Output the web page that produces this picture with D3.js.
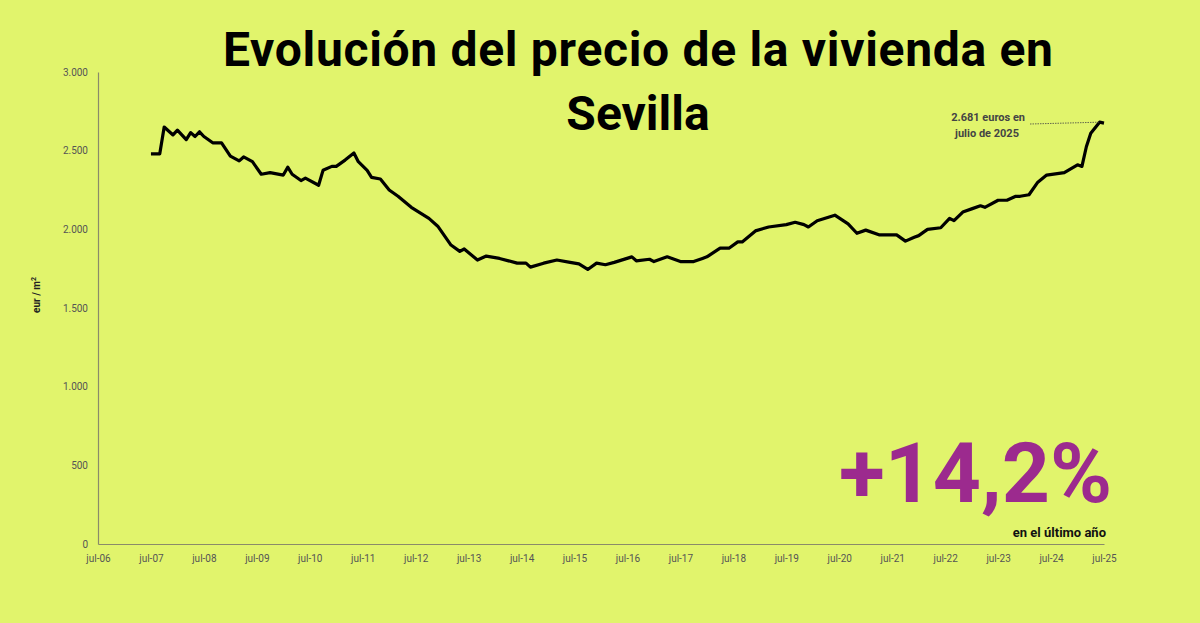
<!DOCTYPE html>
<html>
<head>
<meta charset="utf-8">
<script src="https://cdn.jsdelivr.net/npm/d3@7"></script>
<style>
  body { margin: 0; background: #e1f46c; }
  svg { display: block; font-family: Roboto, "Noto Sans", sans-serif; }
</style>
</head>
<body>
<svg id="chart"></svg>
<script>
// meses desde jul-2006 y precio eur/m2
const months = [12, 14, 15, 17, 18, 20, 21, 22, 23, 24, 26, 28, 30, 32, 33, 35, 37, 39, 42, 43, 44, 46, 47, 50,
  51, 53, 54, 56, 58, 59, 61, 62, 64, 66, 68, 71, 73, 75, 77, 80, 82, 83, 86, 88, 91, 95, 97, 98, 101, 104,
  107, 109, 111, 113, 115, 117, 121, 122, 125, 126, 129, 132, 135, 137, 138, 141, 143, 145, 146, 149, 152,
  156, 158, 160, 161, 163, 167, 170, 172, 174, 177, 181, 183, 185, 186, 188, 191, 193, 194, 196, 198, 200,
  201, 204, 206, 208, 209, 211, 213, 215, 219, 222, 223, 224, 225, 227, 228];
const prices = [2480, 2480, 2650, 2600, 2630, 2570, 2615, 2590, 2620, 2590, 2550, 2550, 2465, 2435, 2460, 2430, 2350, 2360, 2345, 2395, 2350, 2310, 2325, 2280,
  2375, 2400, 2400, 2440, 2485, 2430, 2375, 2330, 2320, 2250, 2210, 2140, 2105, 2070, 2020, 1900, 1860, 1875, 1805, 1830, 1815, 1785, 1785, 1760, 1785, 1805,
  1790, 1780, 1745, 1785, 1775, 1790, 1825, 1800, 1810, 1795, 1825, 1795, 1795, 1815, 1825, 1880, 1880, 1920, 1920, 1990, 2015,
  2030, 2045, 2030, 2015, 2055, 2090, 2035, 1975, 1995, 1965, 1965, 1925, 1950, 1960, 2000, 2010, 2070, 2055, 2110, 2130, 2150,
  2140, 2185, 2185, 2210, 2210, 2220, 2300, 2345, 2360, 2410, 2400, 2525, 2610, 2681, 2675];
const xTickLabels = ["jul-06", "jul-07", "jul-08", "jul-09", "jul-10", "jul-11", "jul-12", "jul-13", "jul-14", "jul-15",
  "jul-16", "jul-17", "jul-18", "jul-19", "jul-20", "jul-21", "jul-22", "jul-23", "jul-24", "jul-25"];
const yTicks = [0, 500, 1000, 1500, 2000, 2500, 3000];

const width = 1200, height = 623;
const svg = d3.select("#chart").attr("width", width).attr("height", height);

const x = d3.scaleLinear().domain([0, 228]).range([98, 1104]);
const y = d3.scaleLinear().domain([0, 3000]).range([544, 72]);
const fmt = d => d3.format(",")(d).replace(/,/g, ".");

// ejes
const yAxis = svg.append("g").attr("transform", "translate(98,0)")
  .call(d3.axisLeft(y).tickValues(yTicks).tickSize(0).tickPadding(10).tickFormat(fmt));
const xAxis = svg.append("g").attr("transform", "translate(0,544)")
  .call(d3.axisBottom(x).tickValues(xTickLabels.map((d, i) => i * 12)).tickSize(0).tickPadding(11)
    .tickFormat((d, i) => xTickLabels[i]));
[yAxis, xAxis].forEach(a => {
  a.select(".domain").attr("stroke", "#8a8a6a").attr("stroke-width", 1.2);
  a.selectAll("text").attr("fill", "#555").attr("font-size", 10).attr("font-family", "Roboto");
});

svg.append("text").attr("transform", "translate(40,295) rotate(-90)")
  .attr("text-anchor", "middle").attr("font-size", 10).attr("font-weight", 700).attr("fill", "#222")
  .html("eur / m<tspan dy='-4' font-size='7'>2</tspan>");

// linea
const line = d3.line().x((d, i) => x(months[i])).y(d => y(d));
svg.append("path").datum(prices)
  .attr("d", line).attr("fill", "none").attr("stroke", "#000")
  .attr("stroke-width", 3.2).attr("stroke-linejoin", "round");

// titulo
svg.append("text").attr("x", 638).attr("y", 66).attr("text-anchor", "middle")
  .attr("font-size", 48).attr("font-weight", 700).attr("fill", "#000").attr("textLength", 830)
  .text("Evolución del precio de la vivienda en");
svg.append("text").attr("x", 638).attr("y", 130).attr("text-anchor", "middle")
  .attr("font-size", 48).attr("font-weight", 700).attr("fill", "#000")
  .text("Sevilla");

// anotacion
const last = prices.length - 1;
svg.append("line").attr("x1", 1030).attr("y1", 124).attr("x2", x(months[last - 1])).attr("y2", y(prices[last - 1]))
  .attr("stroke", "#444").attr("stroke-width", 0.8).attr("stroke-dasharray", "1.5,1");
svg.append("text").attr("x", 1025).attr("y", 121).attr("text-anchor", "end")
  .attr("font-size", 11).attr("font-weight", 700).attr("fill", "#444").text("2.681 euros en");
svg.append("text").attr("x", 1019).attr("y", 137).attr("text-anchor", "end")
  .attr("font-size", 11).attr("font-weight", 700).attr("fill", "#444").text("julio de 2025");

svg.append("text").attr("x", 1112).attr("y", 502).attr("text-anchor", "end")
  .attr("font-size", 84).attr("font-weight", 700).attr("fill", "#9c2a8e").text("+14,2%");
svg.append("text").attr("x", 1106).attr("y", 537).attr("text-anchor", "end")
  .attr("font-size", 13).attr("font-weight", 700).attr("fill", "#111").text("en el último año");
</script>
</body>
</html>
